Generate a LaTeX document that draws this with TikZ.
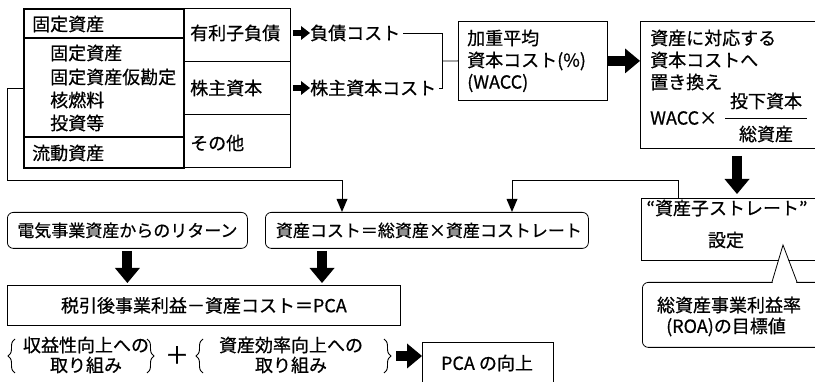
\documentclass[tikz,border=0pt]{standalone}
\usepackage{fontspec}
\setmainfont{Noto Sans CJK JP}[FakeBold=0.6]
\usetikzlibrary{arrows.meta,calc,decorations.pathreplacing}
\begin{document}
\begin{tikzpicture}[x=1pt,y=-1pt,
  font=\fontsize{18}{20}\selectfont,
  thin/.style={line width=0.8pt},
  box/.style={draw, line width=0.8pt, inner sep=0pt, anchor=north west},
  rbox/.style={box, rounded corners=6pt},
  lbl/.style={inner sep=0pt, anchor=west},
  ctr/.style={inner sep=0pt, align=center},
  bigarrow/.style={line width=10pt, -{Triangle[width=25pt,length=15pt,line width=0pt]}},
  smallarrow/.style={line width=5.5pt, -{Triangle[width=14pt,length=9pt,line width=0pt]}},
  conn/.style={line width=0.8pt},
  connarrow/.style={conn, -{Triangle[width=11pt,length=13pt,line width=0pt]}},
  bracestyle/.style={line width=0.9pt, decorate, decoration={brace, amplitude=7pt}},
  tight/.style={font=\fontsize{17}{20}\selectfont},
]
\clip (0,0) rectangle (815,382);
\fill[white] (0,0) rectangle (815,382);

% ---- balance sheet: right column
\node[box, minimum width=107pt, minimum height=53pt] (debt) at (183,8) {};
\node[box, minimum width=107pt, minimum height=53pt] (equity) at (183,61) {};
\node[box, minimum width=107pt, minimum height=53pt] (other) at (183,114) {};
\node[lbl] (debtt) at (190,33) {有利子負債};
\node[lbl] (equityt) at (190,88) {株主資本};
\node[lbl] (othert) at (190,143) {その他};

% ---- balance sheet: assets (thick)
\node[box, line width=1.8pt, minimum width=160pt, minimum height=159pt] (assets) at (23,8) {};
\draw[line width=1.2pt] (23,38) -- (183,38);
\draw[line width=1.2pt] (23,137) -- (183,137);
\node[lbl] (fa) at (32,24) {固定資産};
\node[lbl] (fa1) at (50,53) {固定資産};
\node[lbl] (fa2) at (50,77) {固定資産仮勘定};
\node[lbl] (fa3) at (50,100) {核燃料};
\node[lbl] (fa4) at (50,123) {投資等};
\node[lbl] (ca) at (32,153) {流動資産};

% ---- costs
\node[lbl] (c1) at (310,33) {負債コスト};
\node[lbl] (c2) at (310,88) {株主資本コスト};
\draw[smallarrow] ($(c1.west -| debt.east)+(2,0)$) -- (c1.west);
\draw[smallarrow] ($(c2.west -| equity.east)+(2,0)$) -- (c2.west);

% ---- WACC
\node[box, minimum width=149pt, minimum height=79pt] (wacc) at (458,21) {};
\node[lbl] (w1) at (467,38) {加重平均};
\node[lbl] (w2) at (467,61) {資本コスト(\%)};
\node[lbl] (w3) at (467,83) {(WACC)};
\coordinate (jn) at (442,61);
\draw[conn] ($(c1.east)+(3,0)$) -| (jn);
\draw[conn] ($(c2.east)+(3,0)$) -| (jn);
\draw[conn] (jn) -- (wacc.west);

% ---- replacement box
\node[box, minimum width=190pt, minimum height=127pt] (repl) at (640,21) {};
\node[lbl] (r1) at (650,38) {資産に対応する};
\node[lbl] (r2) at (650,60) {資本コストへ};
\node[lbl] (r3) at (650,82) {置き換え};
\node[lbl] (r4) at (650,118) {WACC×};
\node[ctr] (num) at (766,101) {投下資本};
\node[ctr] (den) at (766,134) {総資産};
\draw[thin] (725,118) -- (807,118);
\draw[bigarrow] (wacc.east) -- (wacc.east -| repl.west);

% ---- asset cost rate setting
\node[box, minimum width=190pt, minimum height=62pt] (setb) at (641,198) {};
\node[ctr] (s1) at (727,208) {“資産子ストレート”};
\node[ctr] (s2) at (726,240) {設定};
\coordinate (da) at ($(repl.south west)+(97,7)$);
\draw[bigarrow] (da) -- ($(da |- setb.north)+(0,-4)$);

% ---- returns and cost
\node[rbox, tight, minimum width=240pt, minimum height=36pt] (elec) at (7,212) {電気事業資産からのリターン};
\node[rbox, tight, minimum width=323pt, minimum height=36pt] (cost) at (265,212) {\hspace{4pt}資産コスト＝総資産×資産コストレート};

\coordinate (jl) at (342,180);
\coordinate (jr) at (512,180);
\draw[connarrow] (assets.west) -- ++(-16,0) |- (jl) -- (jl |- cost.north);
\draw[connarrow] ($(setb.north west)+(37,0)$) |- (jr) -- (jr |- cost.north);

% ---- PCA
\node[box, minimum width=393pt, minimum height=40pt] (pca) at (7,285) {税引後事業利益－資産コスト＝PCA\hspace{8pt}};
\coordinate (a1) at ($(elec.south)+(0,2)$);
\coordinate (a2) at ($(cost.south west)+(57,2)$);
\draw[bigarrow] (a1) -- ($(a1 |- pca.north)+(0,-2)$);
\draw[bigarrow] (a2) -- ($(a2 |- pca.north)+(0,-2)$);

% ---- bottom row
\node[ctr] (prof) at (86,355) {収益性向上への\\取り組み};
\node[ctr] (eff) at (291,355) {資産効率向上への\\取り組み};
\node[inner sep=0pt, font=\fontsize{24}{24}\selectfont] (plus) at (177,355) {＋};
\draw[bracestyle] (15,373) -- (15,339);
\draw[bracestyle] (147,339) -- (147,373);
\draw[bracestyle] (203,373) -- (203,339);
\draw[bracestyle] (384,339) -- (384,373);
\node[box, minimum width=131pt, minimum height=50pt] (pcaup) at (422,342) {};
\node[ctr] (pcaupt) at (487,363) {PCA の向上};
\coordinate (ra) at (396,356);
\draw[bigarrow] (ra) -- (ra -| pcaup.west);

% ---- ROA callout
\node[rbox, minimum width=190pt, minimum height=65pt] (roa) at (642,282) {};
\fill[white] (772.6,283) -- (783,245) -- (796.4,283) -- cycle;
\draw[thin, line join=miter] (772,282) -- (783,245) -- (797,282);
\node[ctr] (roa1) at (729,305) {総資産事業利益率};
\node[ctr] (roa2) at (726,327) {(ROA)の目標値};
\end{tikzpicture}
\end{document}
